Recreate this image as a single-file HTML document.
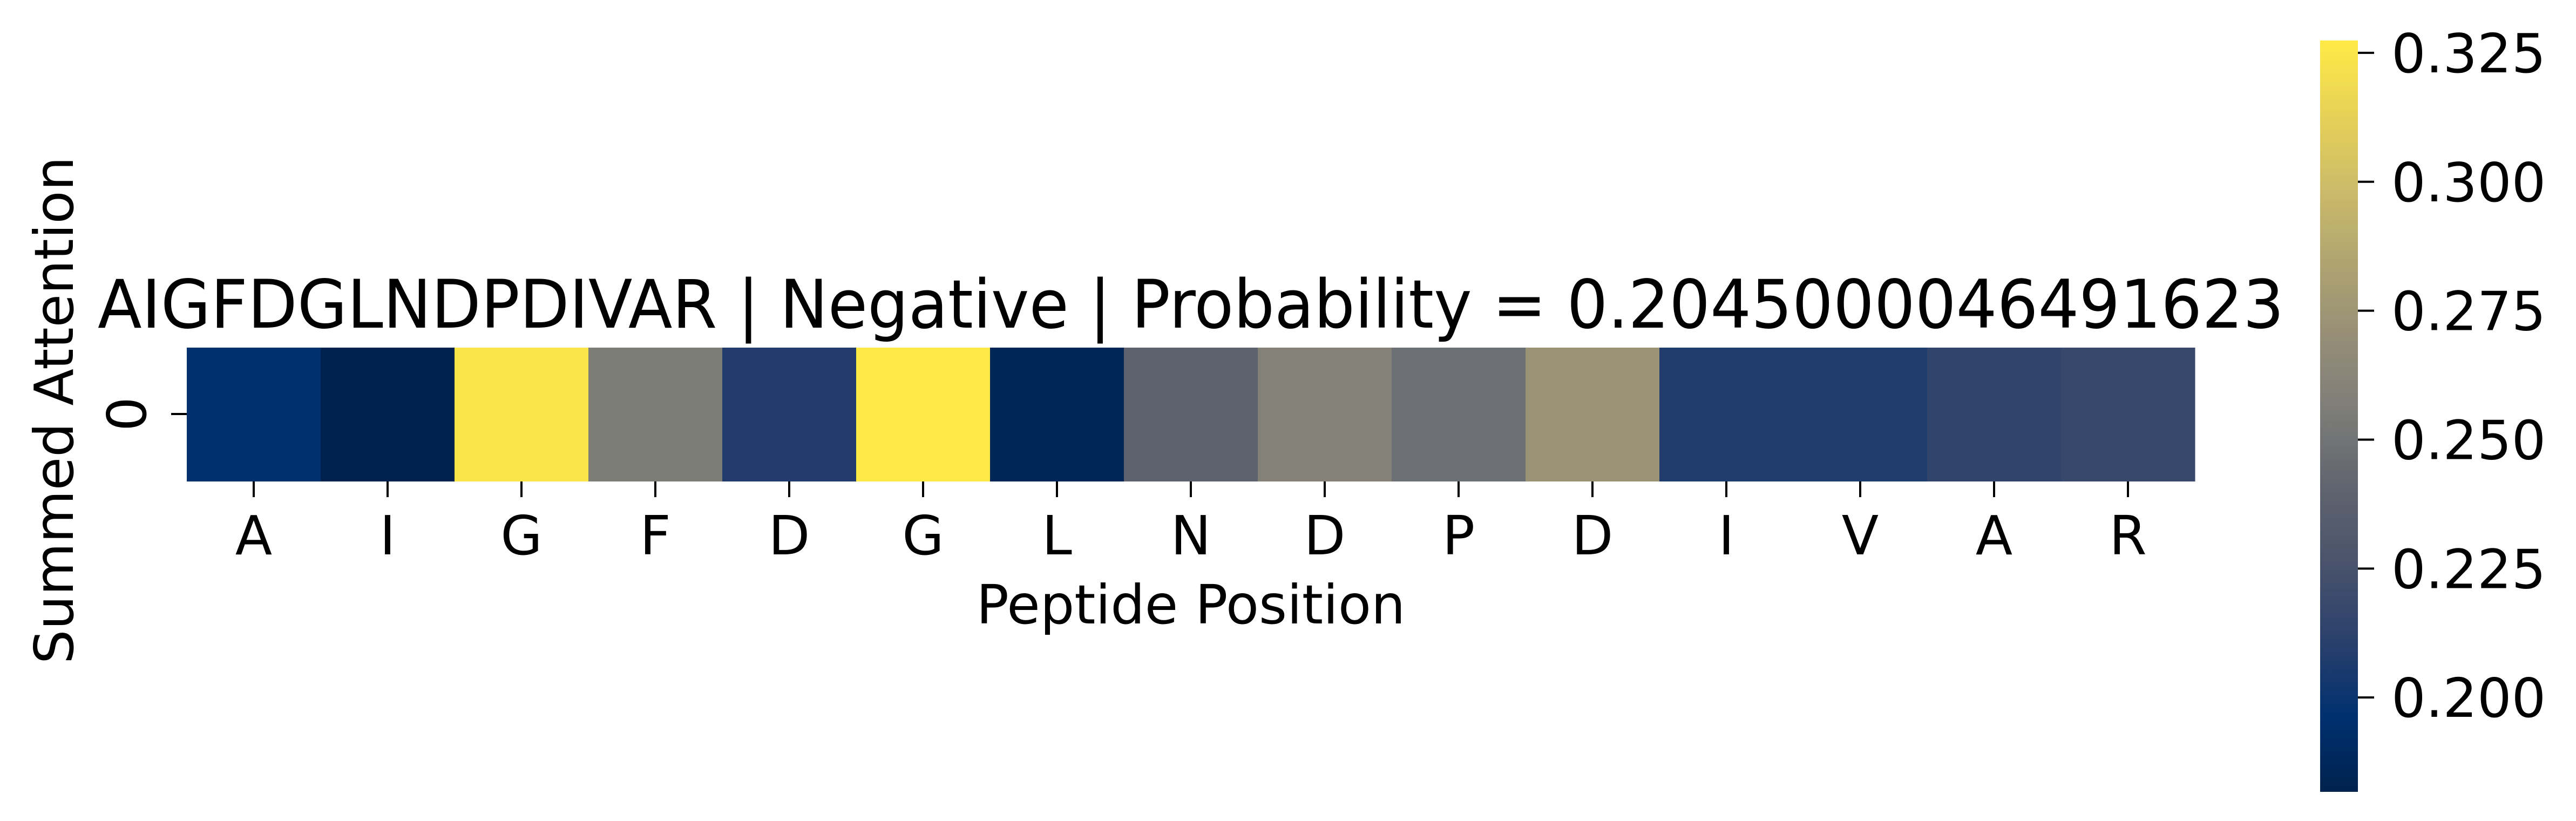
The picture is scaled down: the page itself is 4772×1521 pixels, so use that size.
<!DOCTYPE html>
<html><head><meta charset="utf-8"><style>
html,body{margin:0;padding:0;background:#fff;}
svg{display:block;font-family:"DejaVu Sans","Liberation Sans",sans-serif;}
</style></head><body>
<svg id="chart" width="4772" height="1521" viewBox="0 0 4772 1521" xmlns="http://www.w3.org/2000/svg">
<defs>
<linearGradient id="cbgrad" x1="0" y1="1" x2="0" y2="0"></linearGradient>
</defs>
<rect width="4772" height="1521" fill="#fff"/>
<text x="2206" y="607" font-size="124" text-anchor="middle" textLength="4050" lengthAdjust="spacingAndGlyphs">AIGFDGLNDPDIVAR | Negative | Probability = 0.2045000046491623</text>
<g id="cells"></g>
<g id="xticks"></g>
<line x1="317" y1="767" x2="346" y2="767" stroke="#000" stroke-width="4"/>
<text transform="translate(270,767) rotate(-90)" font-size="100" text-anchor="middle">0</text>
<text transform="translate(135,760) rotate(-90)" font-size="100" text-anchor="middle">Summed Attention</text>
<text x="2206" y="1155" font-size="100" text-anchor="middle">Peptide Position</text>
<rect x="4298" y="75" width="70" height="1392" fill="url(#cbgrad)"/>
<g id="cbticks"></g>
</svg>
<script>
const categories = ["A","I","G","F","D","G","L","N","D","P","D","I","V","A","R"];
const values = [0.196,0.182,0.325,0.256,0.208,0.327,0.186,0.239,0.260,0.247,0.273,0.207,0.207,0.214,0.217];
const cbTicks = [0.200,0.225,0.250,0.275,0.300,0.325];
const cbTickLabels = ["0.200","0.225","0.250","0.275","0.300","0.325"];
const vmin = 0.1817, vmax = 0.3274;

const NS = "http://www.w3.org/2000/svg";
const cividis = ["#00224e","#00306f","#2a406c","#48526b","#5f636e","#7b7b78","#948d77","#aea371","#cbba69","#e6d157","#ffea46"];
function hex(h){return [1,3,5].map(i=>parseInt(h.substr(i,2),16));}
function cmap(t){
  t=Math.max(0,Math.min(1,t));
  const p=t*10, i=Math.min(9,Math.floor(p)), f=p-i;
  const a=hex(cividis[i]), b=hex(cividis[i+1]);
  return "rgb("+a.map((v,k)=>Math.round(v+(b[k]-v)*f)).join(",")+")";
}
const x0=346, cellW=248, y0=644, cellH=248;
const xScale = i => x0 + i*cellW;
const cScale = v => (v-vmin)/(vmax-vmin);
const cells=document.getElementById("cells");
const xt=document.getElementById("xticks");
values.forEach((v,i)=>{
  const r=document.createElementNS(NS,"rect");
  
  
  r.setAttribute("x",xScale(i)); r.setAttribute("y",y0);
  r.setAttribute("width",cellW+0.5); r.setAttribute("height",cellH);
  r.setAttribute("fill",cmap(cScale(v)));
  cells.appendChild(r);
  const cx=xScale(i)+cellW/2;
  const l=document.createElementNS(NS,"line");
  
  
  l.setAttribute("x1",cx);l.setAttribute("x2",cx);l.setAttribute("y1",y0+cellH);l.setAttribute("y2",y0+cellH+29);
  l.setAttribute("stroke","#000");l.setAttribute("stroke-width","4");
  xt.appendChild(l);
  const t=document.createElementNS(NS,"text");
  
  
  t.setAttribute("x",cx);t.setAttribute("y",1027);t.setAttribute("font-size","100");t.setAttribute("text-anchor","middle");
  t.textContent=categories[i];
  xt.appendChild(t);
});
const g=document.getElementById("cbgrad");
for(let k=0;k<=20;k++){
  const s=document.createElementNS(NS,"stop");
  s.setAttribute("offset",k/20);s.setAttribute("stop-color",cmap(k/20));
  g.appendChild(s);
}
const cbTop=75, cbBot=1467;
const cbY = v => cbBot - (v-vmin)/(vmax-vmin)*(cbBot-cbTop);
const cbt=document.getElementById("cbticks");
cbTicks.forEach((v,i)=>{
  const y=cbY(v);
  const l=document.createElementNS(NS,"line");
  
  
  l.setAttribute("x1",4368);l.setAttribute("x2",4398);l.setAttribute("y1",y);l.setAttribute("y2",y);
  l.setAttribute("stroke","#000");l.setAttribute("stroke-width","4");
  cbt.appendChild(l);
  const t=document.createElementNS(NS,"text");
  
  
  t.setAttribute("x",4430);t.setAttribute("y",y+36);t.setAttribute("font-size","100");
  t.textContent=cbTickLabels[i];
  cbt.appendChild(t);
});
</script>
</body></html>
